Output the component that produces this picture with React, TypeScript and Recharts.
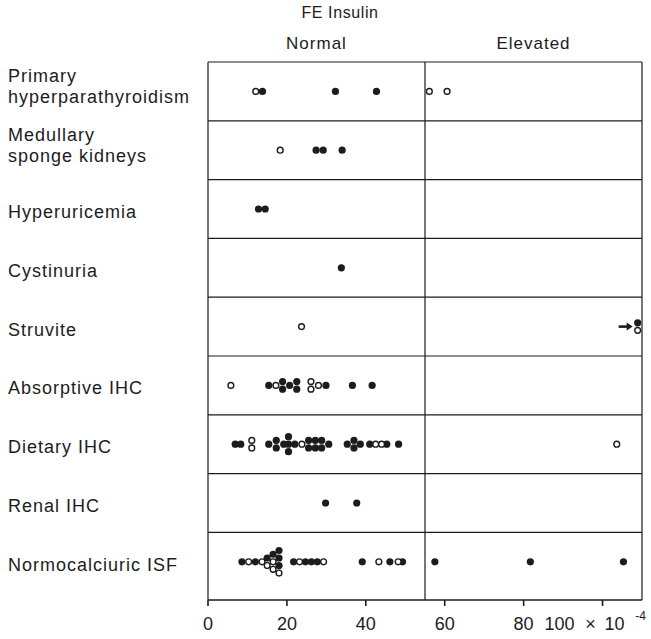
import { ScatterChart, Scatter, XAxis, YAxis, ReferenceLine } from 'recharts';

const categories = [
  'Primary\nhyperparathyroidism',
  'Medullary\nsponge kidneys',
  'Hyperuricemia',
  'Cystinuria',
  'Struvite',
  'Absorptive IHC',
  'Dietary IHC',
  'Renal IHC',
  'Normocalciuric ISF',
];

// FE insulin (x 10^-4), one list per category; equal values stack vertically
const filledValues = [
  [13.8, 32.3, 42.7],
  [27.4, 29.2, 34.0],
  [12.8, 14.5],
  [33.8],
  [108.9],
  [15.4, 18.9, 18.9, 20.7, 22.5, 22.5, 29.9, 36.6, 41.6],
  [6.9, 8.3, 15.4, 17.3, 17.3, 19.2, 20.4, 20.4, 20.4, 22.0, 25.5, 25.5, 27.2, 27.2, 28.8, 28.8, 30.6,
    35.3, 37.0, 37.0, 38.6, 41.0, 45.3, 48.3],
  [29.8, 37.7],
  [8.6, 12.0, 15.0, 16.5, 18.0, 18.0, 18.0, 21.7, 24.7, 26.2, 27.7, 39.1, 46.1, 49.3, 57.5, 81.7, 105.3],
];

const openValues = [
  [12.1, 56.1, 60.6],
  [18.3],
  [],
  [],
  [23.7, 108.9],
  [5.8, 17.2, 26.1, 26.1, 28.0],
  [11.1, 11.1, 23.8, 42.5, 44.0, 103.6],
  [],
  [10.3, 13.7, 15.0, 16.5, 16.5, 18.0, 23.2, 29.3, 43.3, 48.2],
];

// values beyond the scale, marked with an arrow
const offScale = [{ category: 'Struvite', value: 108.9 }];

const xTicks = [0, 20, 40, 60, 80, 100];
const groupLabels = ['Normal', 'Elevated'];
const cutoff = 55;
const xMax = 110;

const W = 651;
const H = 639;
const INK = '#1c1c1c';
const FONT = '"Liberation Sans", Arial, Helvetica, sans-serif';
const STACK = 0.128;

function buildPoints() {
  const filled: { x: number; y: number }[] = [];
  const open: { x: number; y: number }[] = [];
  categories.forEach((_, row) => {
    const items = [
      ...filledValues[row].map((v) => ({ v, kind: 'f' })),
      ...openValues[row].map((v) => ({ v, kind: 'o' })),
    ];
    const groups = new Map<number, typeof items>();
    items.forEach((it) => {
      const g = groups.get(it.v) || [];
      g.push(it);
      groups.set(it.v, g);
    });
    groups.forEach((g) =>
      g.forEach((it, k) => {
        const p = { x: it.v, y: row + 0.5 + (k - (g.length - 1) / 2) * STACK };
        (it.kind === 'f' ? filled : open).push(p);
      })
    );
  });
  return { filled, open };
}

const CategoryTick = (props: any) => {
  const { y, payload } = props;
  const lines = categories[Math.floor(payload.value)].split('\n');
  const first = lines.length > 1 ? -9.5 : 9;
  return (
    <text x={8} y={y + first} fontFamily={FONT} fontSize={18} letterSpacing={1} fill={INK} textAnchor="start">
      {lines.map((l, i) => (
        <tspan key={i} x={8} dy={i === 0 ? 0 : 21}>
          {l}
        </tspan>
      ))}
    </text>
  );
};

const ValueTick = (props: any) => {
  const { x, y, payload } = props;
  const base = y + 22;
  const style = { fontFamily: FONT, fontSize: 18, fill: INK };
  if (payload.value === 100) {
    return (
      <g>
        <text x={x - 43} y={base} textAnchor="middle" {...style}>100</text>
        <text x={x - 12} y={base} textAnchor="middle" {...style}>×</text>
        <text x={x + 12} y={base} textAnchor="middle" {...style}>10</text>
        <text x={x + 38} y={base - 10} textAnchor="middle" fontFamily={FONT} fontSize={12} fill={INK}>-4</text>
      </g>
    );
  }
  return (
    <text x={x} y={base} textAnchor="middle" {...style}>
      {payload.value}
    </text>
  );
};

const GroupTick = (props: any) => {
  const { x, y, index } = props;
  return (
    <text x={x} y={y - 11} textAnchor="middle" fontFamily={FONT} fontSize={17} letterSpacing={1} fill={INK}>
      {groupLabels[index]}
    </text>
  );
};

const FilledDot = (p: any) => <circle cx={p.cx} cy={p.cy} r={3.6} fill={INK} />;
const OpenDot = (p: any) => <circle cx={p.cx} cy={p.cy} r={2.9} fill="#fff" stroke={INK} strokeWidth={1.4} />;
const Arrow = (p: any) => (
  <g>
    <line x1={p.cx - 19} y1={p.cy} x2={p.cx - 10} y2={p.cy} stroke={INK} strokeWidth={2.6} />
    <polygon points={`${p.cx - 5},${p.cy} ${p.cx - 11},${p.cy - 4} ${p.cx - 11},${p.cy + 4}`} fill={INK} />
  </g>
);

export default function App() {
  const { filled, open } = buildPoints();
  const arrows = offScale.map((a) => ({ x: a.value, y: categories.indexOf(a.category) + 0.5 }));
  const rowLines = categories.slice(1).map((_, i) => i + 1);

  return (
    <div style={{ position: 'absolute', left: 0, top: 0, width: W, height: H, background: '#fff' }}>
      <div
        style={{
          position: 'absolute',
          left: 0,
          top: 4,
          width: 680,
          textAlign: 'center',
          fontFamily: FONT,
          fontSize: 16,
          letterSpacing: 0.6,
          color: INK,
        }}
      >
        FE Insulin
      </div>
      <ScatterChart width={W} height={H} margin={{ top: 0, right: 9, bottom: 0, left: 8 }}>
        <XAxis
          type="number"
          dataKey="x"
          domain={[0, xMax]}
          ticks={xTicks}
          interval={0}
          allowDataOverflow
          height={39}
          tickSize={6}
          tick={<ValueTick />}
          axisLine={{ stroke: INK, strokeWidth: 1.4 }}
          tickLine={{ stroke: INK, strokeWidth: 1.6 }}
        />
        <XAxis
          xAxisId="top"
          orientation="top"
          type="number"
          dataKey="x"
          domain={[0, xMax]}
          ticks={[cutoff / 2, (cutoff + xMax) / 2]}
          interval={0}
          allowDataOverflow
          height={62}
          tickSize={0}
          tickLine={false}
          tick={<GroupTick />}
          axisLine={{ stroke: INK, strokeWidth: 1.2 }}
        />
        <YAxis
          type="number"
          dataKey="y"
          domain={[0, categories.length + 0.15]}
          reversed
          allowDataOverflow
          ticks={categories.map((_, i) => i + 0.5)}
          interval={0}
          width={200}
          tickLine={false}
          tick={<CategoryTick />}
          axisLine={{ stroke: INK, strokeWidth: 1.2 }}
        />
        {rowLines.map((r) => (
          <ReferenceLine key={r} y={r} stroke={INK} strokeWidth={1.2} />
        ))}
        <ReferenceLine x={cutoff} stroke={INK} strokeWidth={1.2} />
        <ReferenceLine x={xMax} stroke={INK} strokeWidth={1.2} />
        <Scatter data={filled} shape={FilledDot} isAnimationActive={false} />
        <Scatter data={open} shape={OpenDot} isAnimationActive={false} />
        <Scatter data={arrows} shape={Arrow} isAnimationActive={false} />
      </ScatterChart>
    </div>
  );
}
